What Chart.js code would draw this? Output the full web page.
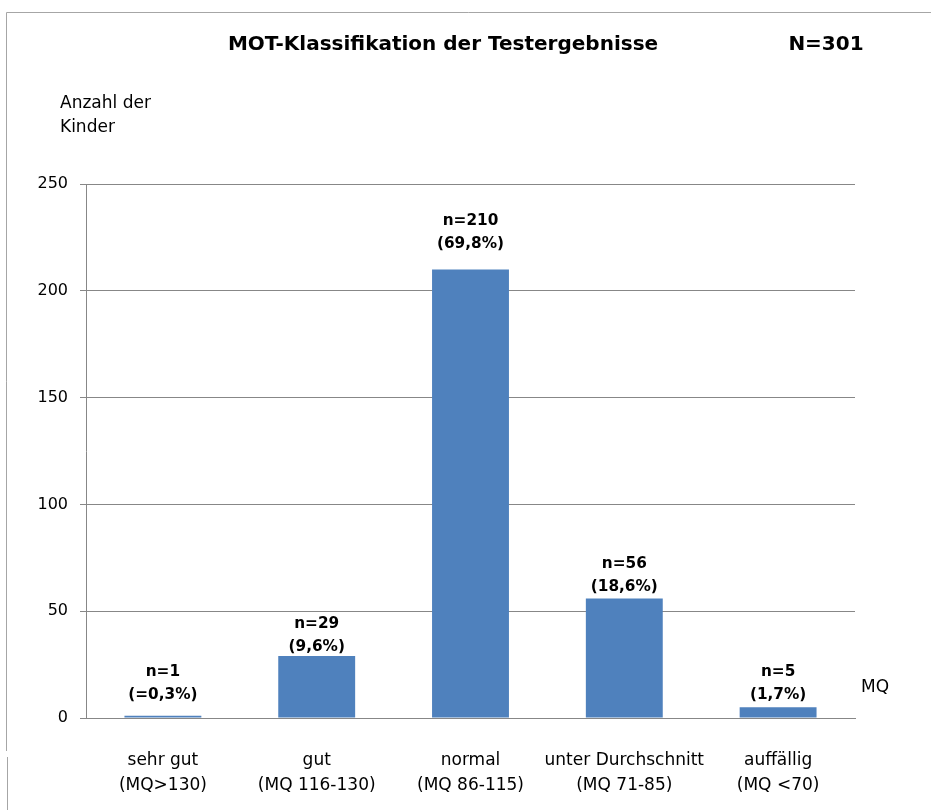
<!DOCTYPE html>
<html><head><meta charset="utf-8">
<script src="https://cdn.jsdelivr.net/npm/chart.js@4/dist/chart.umd.min.js"></script>
<style>html,body{margin:0;padding:0;background:#fff}#wrap{width:931px;height:810px;position:relative}</style>
</head><body><div id="wrap"><canvas id="c" width="931" height="810"></canvas></div>
<script>
const categories = [["sehr gut","(MQ>130)"],["gut","(MQ 116-130)"],["normal","(MQ 86-115)"],["unter Durchschnitt","(MQ 71-85)"],["auffällig","(MQ <70)"]];
const counts = [1, 29, 210, 56, 5];
const countLabels = ["n=1","n=29","n=210","n=56","n=5"];
const percentLabels = ["(=0,3%)","(9,6%)","(69,8%)","(18,6%)","(1,7%)"];
const yTickValues = [0, 50, 100, 150, 200, 250];
const titleText = "MOT-Klassifikation der Testergebnisse";
const totalText = "N=301";
const yTitle = ["Anzahl der","Kinder"];
const xTitle = "MQ";

const FONT = "'DejaVu Sans', 'Liberation Sans', sans-serif";

const overlay = {
  id: 'overlay',
  afterDraw(chart, args, opts) {
    const ctx = chart.ctx;
    ctx.save();
    // frame
    ctx.strokeStyle = '#a6a6a6';
    ctx.lineWidth = 1;
    ctx.beginPath();
    ctx.moveTo(931, 12.5); ctx.lineTo(6.5, 12.5); ctx.lineTo(6.5, 751);
    ctx.moveTo(7.5, 757); ctx.lineTo(7.5, 810);
    ctx.stroke();
    ctx.fillStyle = '#000';
    ctx.textBaseline = 'middle';
    ctx.font = "bold 20px " + FONT;
    ctx.textAlign = 'center';
    ctx.fillText(titleText, 443, 45);
    ctx.fillText(totalText, 826, 45);
    ctx.font = "17px " + FONT;
    ctx.textAlign = 'left';
    ctx.fillText(yTitle[0], 60, 104);
    ctx.fillText(yTitle[1], 60, 128);
    ctx.fillText(xTitle, 861, 688);
    // data labels
    const meta = chart.getDatasetMeta(0);
    ctx.font = "bold 15.3px " + FONT;
    ctx.textAlign = 'center';
    meta.data.forEach((bar, i) => {
      const y2 = bar.y - opts.gaps[i];
      ctx.fillText(percentLabels[i], bar.x, y2);
      ctx.fillText(countLabels[i], bar.x, y2 - 23);
    });
    ctx.restore();
  }
};

new Chart(document.getElementById('c'), {
  type: 'bar',
  data: {
    labels: categories,
    datasets: [{
      data: counts,
      backgroundColor: '#4F81BD',
      borderWidth: 0,
      barPercentage: 0.5,
      categoryPercentage: 1.0
    }]
  },
  options: {
    responsive: false,
    animation: false,
    devicePixelRatio: 1,
    layout: { padding: { left: 0, right: 76, top: 184, bottom: 0 } },
    plugins: {
      legend: { display: false }, tooltip: { enabled: false }, title: { display: false },
      overlay: { gaps: [21, 9, 25, 11, 12] }
    },
    scales: {
      x: {
        grid: { display: false },
        border: { display: true, color: '#878787' },
        ticks: { color: '#000', font: { family: FONT, size: 17, lineHeight: 1.47 }, padding: 22, maxRotation: 0, autoSkip: false },
        afterFit(s) { s.height = 92; }
      },
      y: {
        min: 0, max: 250,
        afterBuildTicks(s) { s.ticks = yTickValues.map(v => ({ value: v })); },
        grid: { color: '#878787', tickLength: 6, drawTicks: true },
        border: { display: true, color: '#878787' },
        ticks: { color: '#000', font: { family: FONT, size: 16 }, padding: 12 },
        afterFit(s) { s.width = 86; }
      }
    }
  },
  plugins: [overlay]
});
</script></body></html>
